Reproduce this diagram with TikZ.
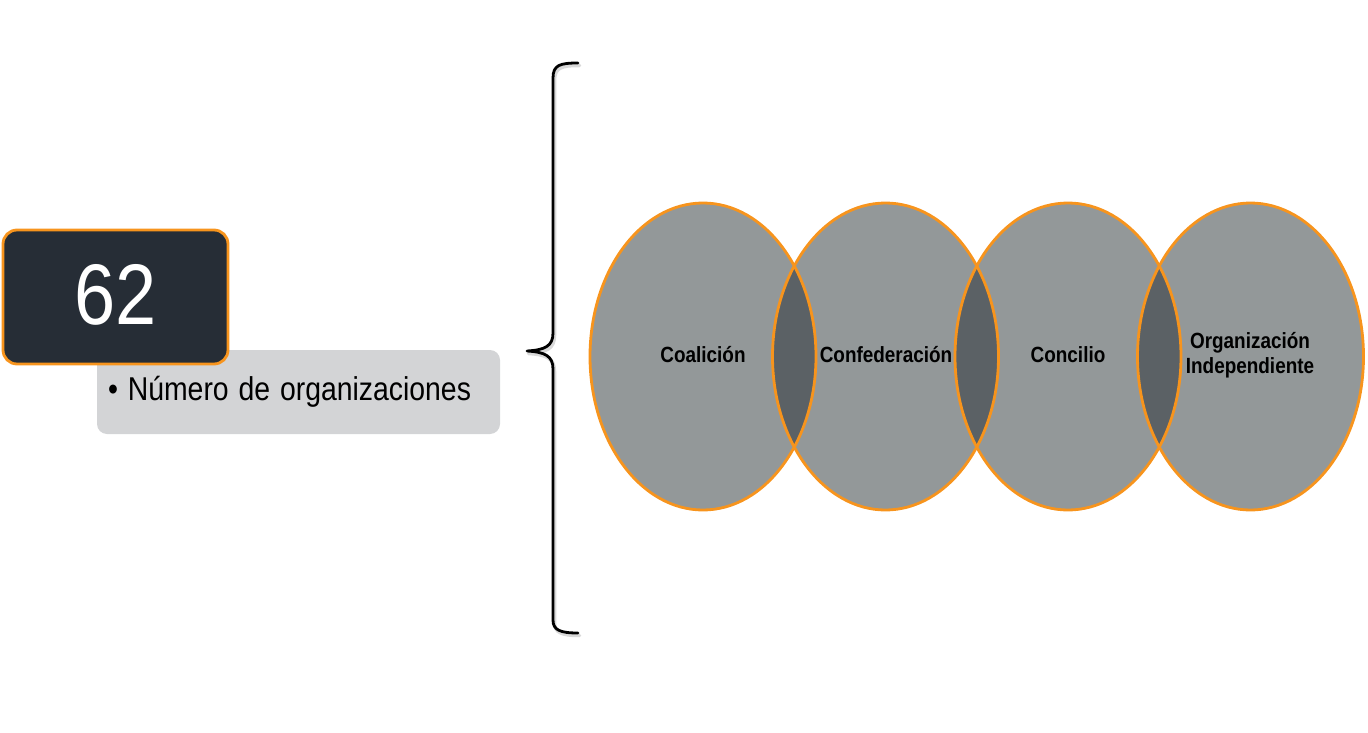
\documentclass[tikz,border=0pt]{standalone}
\usepackage{fontspec}
\setmainfont{Liberation Sans}
\newfontfamily\narrowsans[FakeStretch=0.86]{Liberation Sans}
\usetikzlibrary{positioning, shapes.geometric}

\definecolor{setorange}{HTML}{F7941D}
\definecolor{setgray}{HTML}{939899}
\definecolor{lensgray}{HTML}{5B6165}
\definecolor{boxdark}{HTML}{262D36}
\definecolor{boxlight}{HTML}{D3D4D6}

\tikzset{
    setlabel/.style={font=\narrowsans\bfseries\fontsize{22}{25}\selectfont, align=center, inner sep=0},
    setshape/.style={x radius=113, y radius=153.5},
    bracepath/.style={line width=2.8, line cap=round, line join=round}
}

\begin{document}
\begin{tikzpicture}[x=1pt, y=-1pt]
        \useasboundingbox (0,0) rectangle (1368,733);

        \node[fill=boxlight, rounded corners=10, minimum width=403, minimum height=84,
              text width=381, inner xsep=11, align=left,
              font=\narrowsans\fontsize{33}{36}\selectfont] (box 1) at (298.5,392) {\spaceskip=0.3em\relax • Número de organizaciones};
        \node[draw=setorange, line width=2.8, fill=boxdark, rounded corners=14,
              minimum width=225, minimum height=134, inner sep=0, text=white,
              font=\narrowsans\fontsize{86}{86}\selectfont] (box 0) at (115.5,297) {\raisebox{6pt}{62}};

        % brace
        \draw[bracepath, black!15, line width=3.5, shift={(1.5,2.5)}] (578,63) .. controls (560,63) and (553,65) .. (553,78) -- (553,333)
            .. controls (553,346) and (545,350) .. (527,351) .. controls (545,352) and (553,356) .. (553,369)
            -- (553,620) .. controls (553,630) and (560,633) .. (578,633);
        \draw[bracepath] (578,63) .. controls (560,63) and (553,65) .. (553,78) -- (553,333)
            .. controls (553,346) and (545,350) .. (527,351) .. controls (545,352) and (553,356) .. (553,369)
            -- (553,620) .. controls (553,630) and (560,633) .. (578,633);

        \foreach \x in {703,885.5,1068,1250.5}
        \fill[setgray] (\x,356.5) ellipse [setshape];

        \foreach \x in {703,885.5,1068}
        {
            \begin{scope}
                \clip (\x,356.5) ellipse [setshape];
                \fill[lensgray] (\x+182.5,356.5) ellipse [setshape];
            \end{scope}
        }

        \foreach \x in {703,885.5,1068,1250.5}
        \draw[setorange, line width=2.8] (\x,356.5) ellipse [setshape];

        \node[setlabel] (set 1) at (703,355) {Coalición};
        \node[setlabel] (set 2) at (886,355) {Confederación};
        \node[setlabel] (set 3) at (1068,355) {Concilio};
        \node[setlabel] (set 4) at (1250,355) {Organización\\Independiente};

    \end{tikzpicture}
\end{document}
